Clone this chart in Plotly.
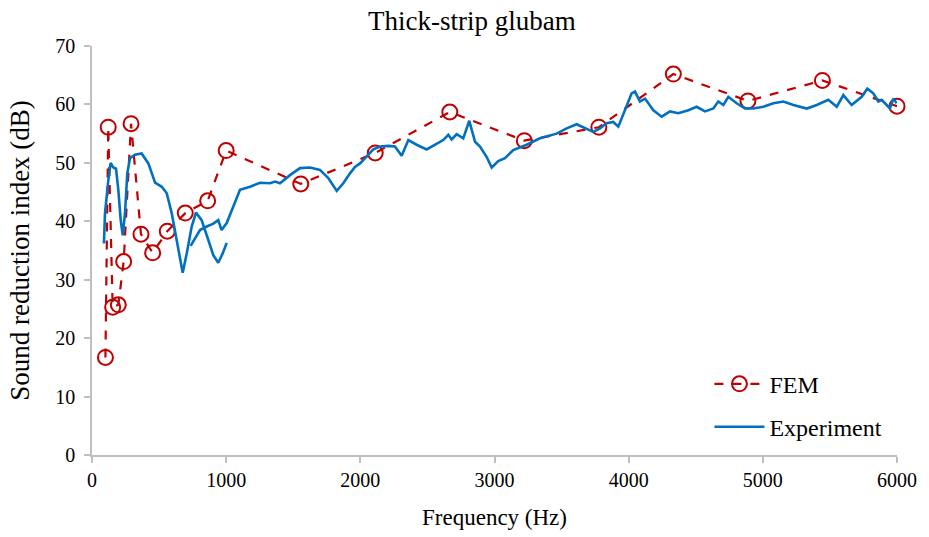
import plotly.graph_objects as go

# FEM results
fem_freq = [100, 121, 154, 196, 236, 291, 365, 452, 561, 695, 862, 1000,
            1556, 2111, 2667, 3222, 3778, 4333, 4889, 5444, 6000]
fem_sri = [16.7, 56.1, 25.3, 25.7, 33.1, 56.7, 37.8, 34.6, 38.3, 41.4, 43.5, 52.1,
           46.4, 51.7, 58.7, 53.8, 56.1, 65.2, 60.6, 64.1, 59.7]

# Experiment, low-frequency band segment
expA_freq = [89, 97, 122, 139, 159, 179, 196, 214, 229, 246, 263, 283, 320, 370, 420,
             470, 520, 557, 594, 631, 656, 676, 706, 743, 775, 817, 867, 904, 941, 974, 1004]
expA_sri = [36.2, 41.4, 47.1, 50.0, 49.2, 49.0, 45.4, 40.2, 37.6, 41.4, 48.2, 50.8, 51.4,
            51.6, 49.9, 46.6, 45.9, 44.8, 41.4, 36.8, 33.4, 31.2, 34.5, 39.1, 41.5, 40.2,
            36.8, 34.2, 32.9, 34.5, 36.3]

# Experiment, narrow-band segment
expB_freq = [735, 770, 805, 855, 904, 941, 966, 1004, 1041, 1103, 1178, 1252, 1327, 1364,
             1401, 1476, 1550, 1625, 1699, 1761, 1824, 1873, 1923, 1960, 1998, 2047, 2097,
             2147, 2209, 2258, 2308, 2358, 2420, 2494, 2556, 2618, 2656, 2680, 2718, 2767,
             2812, 2855, 2892, 2942, 2979, 3028, 3078, 3140, 3239, 3339, 3463, 3538, 3612,
             3674, 3736, 3786, 3836, 3885, 3923, 3972, 4022, 4047, 4084, 4122, 4184, 4246,
             4308, 4370, 4445, 4507, 4569, 4631, 4668, 4706, 4743, 4805, 4867, 4929, 5004,
             5079, 5153, 5228, 5327, 5402, 5488, 5551, 5600, 5662, 5737, 5779, 5823, 5861,
             5886, 5923, 5947, 5973, 5998]
expB_sri = [35.8, 37.2, 38.5, 39.1, 39.6, 40.2, 38.5, 39.7, 41.9, 45.4, 45.9, 46.6, 46.5,
            46.8, 46.5, 47.9, 49.1, 49.2, 48.8, 47.4, 45.2, 46.5, 48.2, 49.3, 49.9, 51.1,
            52.3, 52.8, 52.9, 52.8, 51.2, 53.9, 53.1, 52.3, 53.1, 53.9, 54.8, 54.0, 54.9,
            54.2, 57.2, 53.6, 52.8, 51.0, 49.2, 50.3, 50.8, 52.2, 53.1, 54.2, 55.0, 55.9,
            56.6, 55.9, 55.3, 55.9, 56.8, 57.0, 56.2, 59.0, 61.9, 62.2, 60.5, 61.0, 59.0,
            57.9, 58.8, 58.5, 59.0, 59.6, 58.8, 59.3, 60.5, 59.9, 61.3, 60.2, 59.3, 59.3,
            59.6, 60.2, 60.5, 59.9, 59.3, 59.9, 60.8, 59.6, 61.6, 59.9, 61.3, 62.7, 61.9,
            60.5, 60.8, 59.9, 59.3, 61.0, 60.2]

x_ticks = [0, 1000, 2000, 3000, 4000, 5000, 6000]
y_ticks = [0, 10, 20, 30, 40, 50, 60, 70]

FONT = "Liberation Serif, Times New Roman, serif"

exp_x = expA_freq + [None] + expB_freq
exp_y = expA_sri + [None] + expB_sri

fig = go.Figure()
fig.add_trace(go.Scatter(
    x=fem_freq, y=fem_sri, name="FEM", mode="lines+markers",
    line=dict(color="#C00000", width=2.2, dash="dash"),
    marker=dict(symbol="circle-open", size=15, color="#C00000", line=dict(width=2)),
    legend="legend", cliponaxis=False,
))
fig.add_trace(go.Scatter(
    x=exp_x, y=exp_y, name="Experiment", mode="lines",
    line=dict(color="#0070C0", width=2.6),
    connectgaps=False,
    legend="legend2",
))

axis_common = dict(
    showgrid=False, zeroline=False, showline=True, linecolor="#BFBFBF", linewidth=1.5,
    ticks="outside", tickcolor="#BFBFBF", ticklen=6, tickwidth=1.5, automargin=False,
    tickfont=dict(family=FONT, size=20, color="#000000"),
)

fig.update_layout(
    width=929, height=537,
    margin=dict(l=92, r=32, t=46, b=82),
    paper_bgcolor="white", plot_bgcolor="white",
    title=dict(text="Thick-strip glubam", x=0.508, xref="container", xanchor="center",
               y=0.962, yref="container", yanchor="middle",
               font=dict(family=FONT, size=27, color="#000000")),
    xaxis=dict(range=[0, 6000], tickvals=x_ticks, ticktext=[str(v) for v in x_ticks],
               title=dict(text="Frequency (Hz)", font=dict(family=FONT, size=23, color="#000000"), standoff=19),
               **axis_common),
    yaxis=dict(range=[0, 70], tickvals=y_ticks, ticktext=[str(v) for v in y_ticks],
               ticklabelstandoff=5,
               title=dict(text="Sound reduction index (dB)", font=dict(family=FONT, size=27, color="#000000"), standoff=18),
               **axis_common),
    legend=dict(x=0.767, y=0.173, xanchor="left", yanchor="middle", bgcolor="rgba(0,0,0,0)",
                font=dict(family=FONT, size=24, color="#000000"), itemwidth=50),
    legend2=dict(x=0.767, y=0.068, xanchor="left", yanchor="middle", bgcolor="rgba(0,0,0,0)",
                 font=dict(family=FONT, size=24, color="#000000"), itemwidth=50),
    showlegend=True,
)

fig.write_html("out.html", config={"displayModeBar": False},
               post_script="document.body.style.margin='0';")
